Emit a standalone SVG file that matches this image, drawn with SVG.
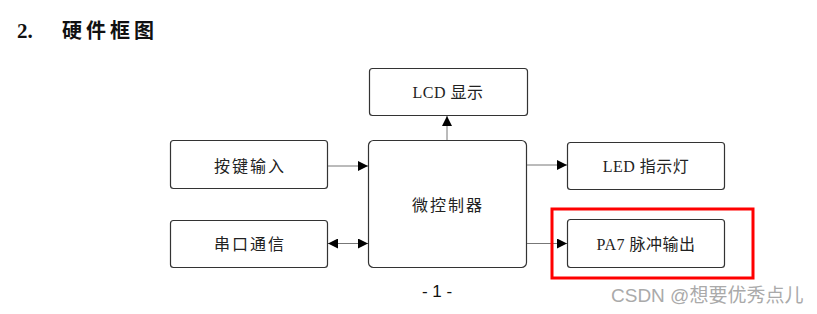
<svg xmlns="http://www.w3.org/2000/svg" width="817" height="314" viewBox="0 0 817 314">
  <defs>
    <marker id="arr" viewBox="0 0 10 10" refX="10" refY="5" markerWidth="10" markerHeight="10" markerUnits="userSpaceOnUse" orient="auto-start-reverse">
      <path d="M0,0 L10,5 L0,10 Z" fill="#000"/>
    </marker>
  </defs>
  <style>
    .box { fill: #fff; stroke: #333; stroke-width: 1.2; }
    .lbl { font-family: "Liberation Serif", "Noto Sans CJK SC", serif; font-size: 16px; fill: #222; text-anchor: middle; letter-spacing: 2px; }
    .mix { letter-spacing: 0.5px; }
    .conn { stroke: #777; stroke-width: 1; fill: none; }
  </style>
  <rect width="817" height="314" fill="#fff"/>
  <text x="17" y="38" font-family="Liberation Serif, Noto Sans CJK SC, serif" font-size="21" font-weight="bold" fill="#111">2.</text>
  <text x="62" y="38" font-family="Noto Sans CJK SC, sans-serif" font-size="20" font-weight="bold" fill="#111" letter-spacing="4">硬件框图</text>

  <g id="lcd"><rect class="box" x="369.5" y="68.5" width="158" height="47" rx="3"/><text class="lbl mix" x="448" y="98">LCD 显示</text></g>
  <g id="key"><rect class="box" x="170.5" y="140.5" width="157" height="48" rx="3"/><text class="lbl" x="250" y="172">按键输入</text></g>
  <g id="mcu"><rect class="box" x="368.5" y="140.5" width="158" height="127" rx="5"/><text class="lbl" x="448" y="211">微控制器</text></g>
  <g id="serial"><rect class="box" x="170.5" y="220.5" width="157" height="47" rx="3"/><text class="lbl" x="250" y="250">串口通信</text></g>
  <g id="led"><rect class="box" x="567.5" y="142.5" width="157" height="47" rx="3"/><text class="lbl mix" x="646" y="172">LED 指示灯</text></g>
  <g id="pa7"><rect class="box" x="567.5" y="219.5" width="157" height="48" rx="3"/><text class="lbl mix" x="646" y="250">PA7 脉冲输出</text></g>

  <g id="connectors">
    <line class="conn" x1="447" y1="140" x2="447" y2="116" marker-end="url(#arr)"/>
    <line class="conn" x1="328" y1="166" x2="368" y2="166" marker-end="url(#arr)"/>
    <line class="conn" x1="328" y1="243.5" x2="368" y2="243.5" marker-start="url(#arr)" marker-end="url(#arr)"/>
    <line class="conn" x1="527" y1="165" x2="567" y2="165" marker-end="url(#arr)"/>
    <line class="conn" x1="527" y1="243.5" x2="567" y2="243.5" marker-end="url(#arr)"/>
  </g>

  <rect x="552" y="209" width="201" height="69" fill="none" stroke="#f00" stroke-width="3"/>
  <text x="437" y="297" font-family="Liberation Sans, sans-serif" font-size="17" fill="#111" text-anchor="middle">- 1 -</text>
  <text x="611" y="302" font-family="Liberation Sans, Noto Sans CJK SC, sans-serif" font-size="19" fill="#aaa">CSDN @想要优秀点儿</text>
</svg>
